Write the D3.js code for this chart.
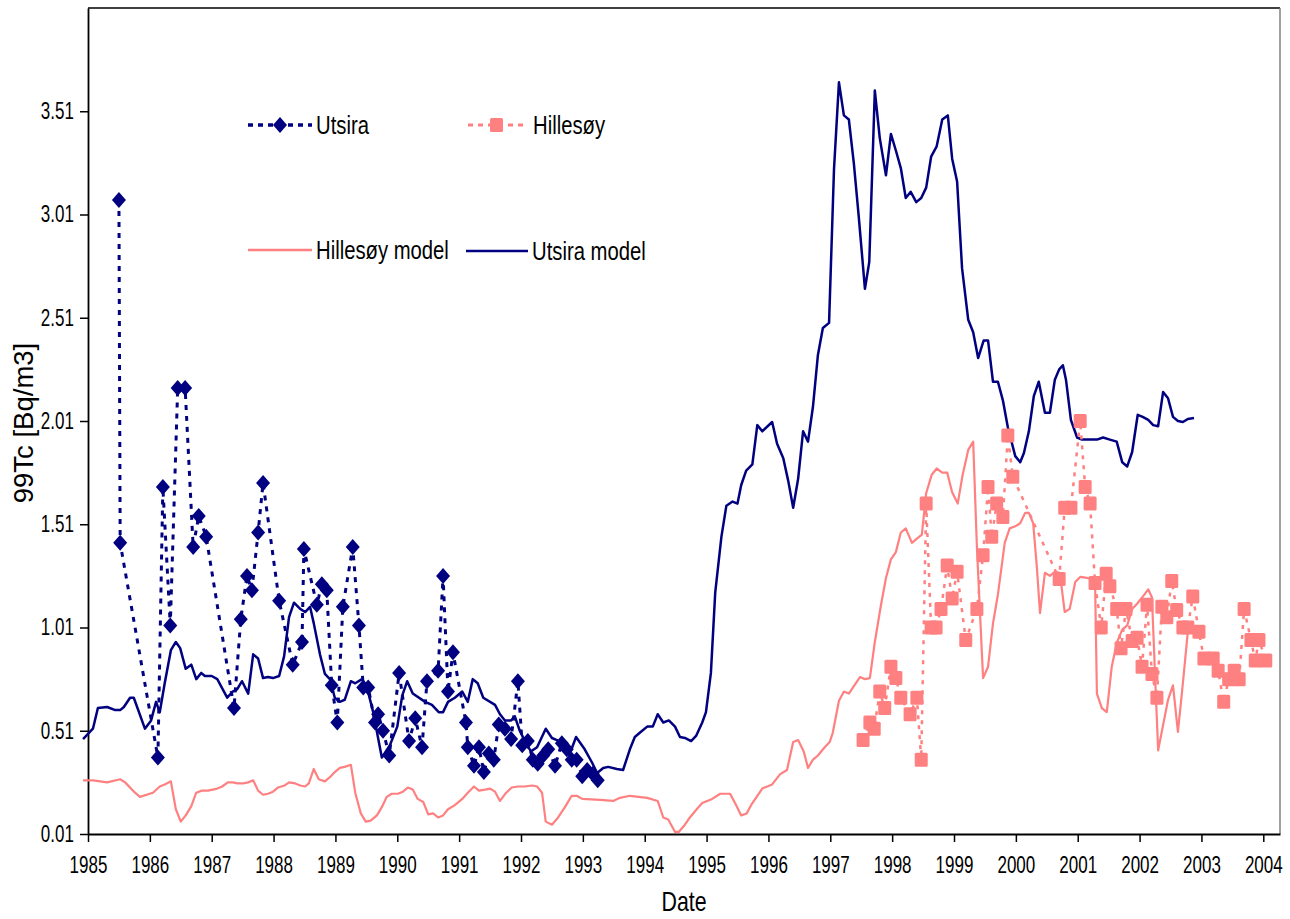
<!DOCTYPE html>
<html>
<head>
<meta charset="utf-8">
<script src="https://cdn.jsdelivr.net/npm/d3@7"></script>
<style>
body { margin: 0; background: #fff; }
svg { display: block; }
text { font-family: 'Liberation Sans', Arial, sans-serif; fill: #000; }
</style>
</head>
<body>
<div id="chart"></div>
<script>
// ---- data (decimal year, 99Tc Bq/m3) ----
var utsiraObs = [
  [1985.50,3.08],[1985.52,1.42],[1986.13,0.38],[1986.21,1.69],[1986.33,1.02],[1986.45,2.17],[1986.57,2.17],
  [1986.70,1.40],[1986.79,1.55],[1986.91,1.45],[1987.36,0.62],[1987.47,1.05],[1987.57,1.26],[1987.65,1.19],
  [1987.75,1.47],[1987.83,1.71],[1988.09,1.14],[1988.31,0.83],[1988.46,0.94],[1988.49,1.39],[1988.70,1.12],
  [1988.78,1.22],[1988.86,1.19],[1988.94,0.73],[1989.03,0.55],[1989.12,1.11],[1989.28,1.40],[1989.38,1.02],
  [1989.45,0.72],[1989.53,0.72],[1989.64,0.55],[1989.69,0.59],[1989.77,0.51],[1989.87,0.39],[1990.03,0.79],
  [1990.19,0.46],[1990.29,0.57],[1990.40,0.43],[1990.48,0.75],[1990.66,0.80],[1990.74,1.26],[1990.82,0.70],
  [1990.90,0.89],[1991.11,0.55],[1991.14,0.43],[1991.24,0.34],[1991.32,0.43],[1991.40,0.31],[1991.48,0.40],
  [1991.56,0.37],[1991.64,0.54],[1991.74,0.52],[1991.84,0.47],[1991.95,0.75],[1992.02,0.44],[1992.11,0.46],
  [1992.19,0.37],[1992.27,0.35],[1992.36,0.39],[1992.44,0.42],[1992.55,0.34],[1992.66,0.45],[1992.74,0.42],
  [1992.82,0.37],[1992.90,0.37],[1992.99,0.29],[1993.07,0.32],[1993.16,0.30],[1993.24,0.27]
];

var hillesoyObs = [
  [1997.53,0.465],[1997.64,0.55],[1997.71,0.52],[1997.80,0.70],[1997.88,0.62],[1997.98,0.82],[1998.06,0.765],
  [1998.14,0.67],[1998.29,0.59],[1998.40,0.67],[1998.47,0.37],[1998.55,1.61],[1998.63,1.01],[1998.71,1.01],
  [1998.79,1.10],[1998.89,1.31],[1998.97,1.15],[1999.05,1.28],[1999.19,0.95],[1999.37,1.10],[1999.47,1.36],
  [1999.55,1.69],[1999.61,1.45],[1999.69,1.61],[1999.79,1.545],[1999.87,1.94],[1999.95,1.74],[2000.70,1.245],
  [2000.79,1.59],[2000.89,1.59],[2001.04,2.01],[2001.12,1.69],[2001.20,1.61],[2001.28,1.225],[2001.38,1.01],
  [2001.46,1.27],[2001.52,1.21],[2001.63,1.10],[2001.70,0.91],[2001.78,1.10],[2001.88,0.945],[2001.96,0.96],
  [2002.04,0.82],[2002.12,1.12],[2002.20,0.785],[2002.28,0.67],[2002.36,1.11],[2002.44,1.06],[2002.52,1.235],
  [2002.60,1.095],[2002.70,1.01],[2002.78,1.01],[2002.86,1.16],[2002.96,0.99],[2003.04,0.86],[2003.19,0.86],
  [2003.27,0.80],[2003.36,0.65],[2003.44,0.76],[2003.53,0.80],[2003.61,0.76],[2003.69,1.10],[2003.80,0.95],
  [2003.87,0.85],[2003.93,0.95],[2004.04,0.85]
];

var hillesoyModel = [
  [1984.92,0.27],[1985.08,0.27],[1985.31,0.26],[1985.52,0.275],[1985.60,0.26],[1985.76,0.21],[1985.84,0.19],
  [1986.05,0.21],[1986.16,0.24],[1986.24,0.25],[1986.34,0.265],[1986.42,0.13],[1986.50,0.07],[1986.58,0.10],
  [1986.67,0.145],[1986.75,0.21],[1986.84,0.22],[1986.94,0.22],[1987.09,0.23],[1987.17,0.24],[1987.26,0.26],
  [1987.34,0.26],[1987.42,0.255],[1987.51,0.255],[1987.59,0.26],[1987.67,0.27],[1987.75,0.22],[1987.83,0.20],
  [1987.91,0.205],[1987.99,0.215],[1988.07,0.235],[1988.18,0.245],[1988.25,0.26],[1988.35,0.255],[1988.43,0.245],
  [1988.51,0.24],[1988.57,0.255],[1988.65,0.325],[1988.73,0.275],[1988.83,0.265],[1988.91,0.285],[1988.99,0.31],
  [1989.07,0.33],[1989.15,0.335],[1989.25,0.345],[1989.32,0.21],[1989.41,0.11],[1989.49,0.07],[1989.57,0.075],
  [1989.67,0.10],[1989.75,0.14],[1989.83,0.19],[1989.91,0.205],[1990.01,0.205],[1990.09,0.215],[1990.17,0.235],
  [1990.25,0.225],[1990.33,0.18],[1990.42,0.165],[1990.50,0.105],[1990.58,0.11],[1990.66,0.09],[1990.74,0.10],
  [1990.82,0.13],[1990.93,0.15],[1991.05,0.18],[1991.14,0.21],[1991.24,0.24],[1991.32,0.22],[1991.42,0.225],
  [1991.50,0.23],[1991.58,0.215],[1991.66,0.17],[1991.76,0.21],[1991.85,0.235],[1991.95,0.24],[1992.06,0.24],
  [1992.18,0.245],[1992.26,0.24],[1992.34,0.21],[1992.40,0.07],[1992.50,0.055],[1992.60,0.09],[1992.71,0.14],
  [1992.82,0.195],[1992.90,0.195],[1992.99,0.18],[1993.28,0.175],[1993.49,0.17],[1993.60,0.185],[1993.76,0.195],
  [1994.04,0.185],[1994.21,0.17],[1994.30,0.09],[1994.38,0.08],[1994.49,0.02],[1994.55,0.02],[1994.65,0.055],
  [1994.73,0.09],[1994.84,0.13],[1994.93,0.16],[1995.09,0.18],[1995.22,0.205],[1995.38,0.205],[1995.46,0.16],
  [1995.56,0.10],[1995.65,0.11],[1995.73,0.155],[1995.90,0.23],[1996.06,0.25],[1996.19,0.30],[1996.30,0.32],
  [1996.40,0.455],[1996.48,0.465],[1996.57,0.41],[1996.64,0.33],[1996.72,0.37],[1996.80,0.39],[1996.91,0.43],
  [1996.99,0.455],[1997.04,0.50],[1997.14,0.655],[1997.22,0.70],[1997.30,0.69],[1997.40,0.735],[1997.48,0.77],
  [1997.56,0.76],[1997.64,0.765],[1997.72,0.94],[1997.82,1.12],[1997.90,1.25],[1997.98,1.34],[1998.06,1.375],
  [1998.14,1.47],[1998.22,1.49],[1998.32,1.42],[1998.40,1.44],[1998.48,1.46],[1998.55,1.66],[1998.64,1.75],
  [1998.72,1.78],[1998.81,1.76],[1998.89,1.76],[1998.97,1.665],[1999.06,1.61],[1999.14,1.75],[1999.23,1.87],
  [1999.31,1.91],[1999.37,1.40],[1999.47,0.765],[1999.55,0.82],[1999.63,1.03],[1999.71,1.17],[1999.82,1.42],
  [1999.90,1.49],[1999.99,1.50],[2000.07,1.515],[2000.15,1.565],[2000.21,1.565],[2000.28,1.515],[2000.34,1.30],
  [2000.39,1.08],[2000.47,1.275],[2000.55,1.26],[2000.63,1.28],[2000.71,1.275],[2000.79,1.085],[2000.87,1.10],
  [2000.96,1.23],[2001.04,1.255],[2001.15,1.25],[2001.28,1.24],[2001.31,0.69],[2001.39,0.62],[2001.47,0.60],
  [2001.55,0.82],[2001.63,0.935],[2001.72,1.00],[2001.80,1.02],[2001.88,1.10],[2001.96,1.125],[2002.04,1.155],
  [2002.14,1.195],[2002.20,1.155],[2002.25,0.78],[2002.30,0.415],[2002.46,0.66],[2002.54,0.73],[2002.62,0.505],
  [2002.70,0.74],[2002.78,0.99]
];

var utsiraModel = [
  [1984.92,0.47],[1985.08,0.52],[1985.16,0.62],[1985.31,0.625],[1985.44,0.61],[1985.52,0.61],[1985.58,0.625],
  [1985.68,0.67],[1985.74,0.67],[1985.92,0.52],[1986.02,0.56],[1986.10,0.65],[1986.16,0.60],[1986.24,0.74],
  [1986.34,0.90],[1986.42,0.94],[1986.49,0.91],[1986.58,0.81],[1986.67,0.83],[1986.75,0.76],[1986.83,0.79],
  [1986.89,0.775],[1987.00,0.775],[1987.09,0.76],[1987.25,0.67],[1987.34,0.70],[1987.41,0.71],[1987.49,0.75],
  [1987.59,0.69],[1987.67,0.88],[1987.75,0.86],[1987.83,0.765],[1987.91,0.77],[1987.99,0.765],[1988.09,0.775],
  [1988.17,0.87],[1988.25,1.06],[1988.33,1.13],[1988.43,1.10],[1988.51,1.085],[1988.59,1.11],[1988.65,1.03],
  [1988.75,0.88],[1988.83,0.785],[1988.91,0.76],[1988.99,0.67],[1989.07,0.65],[1989.15,0.66],[1989.25,0.75],
  [1989.32,0.74],[1989.43,0.76],[1989.51,0.72],[1989.61,0.60],[1989.75,0.38],[1989.88,0.44],[1990.00,0.53],
  [1990.08,0.68],[1990.16,0.75],[1990.25,0.69],[1990.45,0.65],[1990.56,0.635],[1990.67,0.60],[1990.74,0.60],
  [1990.82,0.65],[1990.93,0.67],[1991.05,0.70],[1991.14,0.65],[1991.22,0.76],[1991.30,0.74],[1991.39,0.67],
  [1991.58,0.635],[1991.66,0.59],[1991.74,0.56],[1991.84,0.56],[1991.90,0.58],[1991.98,0.51],[1992.08,0.45],
  [1992.16,0.41],[1992.26,0.43],[1992.40,0.52],[1992.50,0.475],[1992.58,0.465],[1992.68,0.44],[1992.79,0.40],
  [1992.89,0.48],[1993.03,0.42],[1993.15,0.355],[1993.23,0.305],[1993.33,0.33],[1993.41,0.335],[1993.55,0.325],
  [1993.65,0.32],[1993.76,0.42],[1993.84,0.48],[1993.92,0.50],[1994.04,0.53],[1994.13,0.53],[1994.21,0.59],
  [1994.30,0.55],[1994.39,0.56],[1994.49,0.53],[1994.57,0.48],[1994.65,0.475],[1994.75,0.46],[1994.83,0.485],
  [1994.93,0.55],[1994.99,0.60],[1995.07,0.79],[1995.14,1.18],[1995.24,1.45],[1995.32,1.60],[1995.42,1.62],
  [1995.50,1.61],[1995.56,1.70],[1995.64,1.77],[1995.74,1.80],[1995.82,1.99],[1995.90,1.96],[1996.06,2.005],
  [1996.14,1.90],[1996.24,1.83],[1996.32,1.72],[1996.40,1.59],[1996.48,1.73],[1996.56,1.96],[1996.64,1.91],
  [1996.72,2.08],[1996.80,2.33],[1996.88,2.46],[1996.98,2.485],[1997.06,3.23],[1997.14,3.65],[1997.22,3.49],
  [1997.30,3.47],[1997.38,3.26],[1997.46,3.00],[1997.56,2.65],[1997.63,2.78],[1997.72,3.61],[1997.80,3.38],
  [1997.90,3.20],[1997.98,3.40],[1998.06,3.32],[1998.14,3.235],[1998.22,3.09],[1998.30,3.12],[1998.39,3.07],
  [1998.47,3.09],[1998.55,3.14],[1998.63,3.29],[1998.72,3.34],[1998.81,3.47],[1998.90,3.49],[1998.97,3.28],
  [1999.05,3.17],[1999.13,2.75],[1999.23,2.50],[1999.31,2.44],[1999.39,2.315],[1999.48,2.40],[1999.55,2.40],
  [1999.63,2.20],[1999.71,2.20],[1999.79,2.11],[1999.87,1.98],[1999.99,1.84],[2000.07,1.81],[2000.13,1.855],
  [2000.21,1.96],[2000.29,2.13],[2000.37,2.20],[2000.47,2.05],[2000.55,2.05],[2000.63,2.21],[2000.70,2.26],
  [2000.76,2.28],[2000.81,2.21],[2000.89,2.015],[2000.99,1.93],[2001.07,1.92],[2001.31,1.92],[2001.41,1.93],
  [2001.52,1.92],[2001.63,1.91],[2001.72,1.81],[2001.80,1.79],[2001.88,1.86],[2001.97,2.04],[2002.05,2.03],
  [2002.14,2.015],[2002.22,1.99],[2002.30,1.985],[2002.38,2.15],[2002.46,2.12],[2002.54,2.03],[2002.62,2.01],
  [2002.70,2.005],[2002.78,2.02],[2002.88,2.025]
];

var yearTicks = d3.range(1985, 2005);
var valueTicks = [0.01, 0.51, 1.01, 1.51, 2.01, 2.51, 3.01, 3.51];

// colours
var navy = '#000080';
var salmon = '#ff8080';

// text in the original is condensed - squeeze horizontally
var squeeze = 0.74;

// svg area
var svgWidth = 1290;
var svgHeight = 919;
var plot = { left: 88, right: 1280, top: 8, bottom: 834 };

var svg = d3.select('#chart')
  .append('svg')
  .attr('width', svgWidth)
  .attr('height', svgHeight);

// scales
var xScale = d3.scaleLinear()
  .domain([1985, 2004.27])
  .range([plot.left, plot.right]);

var yScale = d3.scaleLinear()
  .domain([0.01, 4.01])
  .range([plot.bottom, plot.top]);

// frame: top and right edges of plot area
svg.append('line')
  .attr('x1', plot.left).attr('x2', plot.right)
  .attr('y1', plot.top).attr('y2', plot.top)
  .attr('stroke', '#000').attr('stroke-width', 1.5);
svg.append('line')
  .attr('x1', plot.right).attr('x2', plot.right)
  .attr('y1', plot.top).attr('y2', plot.bottom)
  .attr('stroke', '#808080').attr('stroke-width', 1.5);

// axes
var bottomAxis = d3.axisBottom(xScale)
  .tickValues(yearTicks)
  .tickFormat(d3.format('d'))
  .tickSize(8)
  .tickSizeOuter(0)
  .tickPadding(15);

var leftAxis = d3.axisLeft(yScale)
  .tickValues(valueTicks)
  .tickFormat(d3.format('.2f'))
  .tickSize(8)
  .tickSizeOuter(0)
  .tickPadding(11);

var xAxisG = svg.append('g')
  .attr('transform', `translate(0, ${plot.bottom})`)
  .call(bottomAxis);
xAxisG.select('.domain').attr('stroke-width', 2.2);
xAxisG.selectAll('.tick line').attr('stroke-width', 1.5);
xAxisG.selectAll('.tick text')
  .attr('font-size', 23)
  .attr('font-family', null)
  .attr('transform', `scale(${squeeze},1)`);

var yAxisG = svg.append('g')
  .attr('transform', `translate(${plot.left}, 0)`)
  .call(leftAxis);
yAxisG.select('.domain').attr('stroke-width', 1.8);
yAxisG.selectAll('.tick line').attr('stroke-width', 1.5);
yAxisG.selectAll('.tick text')
  .attr('font-size', 23)
  .attr('font-family', null)
  .attr('transform', `scale(${squeeze},1)`);

// axis titles
svg.append('text')
  .attr('transform', `translate(684, 911) scale(0.79,1)`)
  .attr('text-anchor', 'middle')
  .attr('font-size', 27)
  .text('Date');

svg.append('text')
  .attr('transform', 'translate(33, 423) rotate(-90)')
  .attr('text-anchor', 'middle')
  .attr('font-size', 27.5)
  .text('99Tc [Bq/m3]');

// line generator
var line = d3.line()
  .x(d => xScale(d[0]))
  .y(d => yScale(d[1]));

// model lines
svg.append('path')
  .datum(hillesoyModel)
  .attr('d', line)
  .attr('fill', 'none')
  .attr('stroke', salmon)
  .attr('stroke-width', 2.2)
  .attr('stroke-linejoin', 'round');

svg.append('path')
  .datum(utsiraModel)
  .attr('d', line)
  .attr('fill', 'none')
  .attr('stroke', navy)
  .attr('stroke-width', 2.5)
  .attr('stroke-linejoin', 'round');

// observation lines (dotted)
svg.append('path')
  .datum(utsiraObs)
  .attr('d', line)
  .attr('fill', 'none')
  .attr('stroke', navy)
  .attr('stroke-width', 3)
  .attr('stroke-dasharray', '5,6');

svg.append('path')
  .datum(hillesoyObs)
  .attr('d', line)
  .attr('fill', 'none')
  .attr('stroke', salmon)
  .attr('stroke-width', 2.5)
  .attr('stroke-dasharray', '4,6');

// markers
var diamond = 'M0,-8L7,0L0,8L-7,0Z';

svg.append('g')
  .selectAll('path')
  .data(utsiraObs)
  .enter()
  .append('path')
  .attr('d', diamond)
  .attr('transform', d => `translate(${xScale(d[0])}, ${yScale(d[1])})`)
  .attr('fill', navy);

svg.append('g')
  .selectAll('rect')
  .data(hillesoyObs)
  .enter()
  .append('rect')
  .attr('x', d => xScale(d[0]) - 6.5)
  .attr('y', d => yScale(d[1]) - 7)
  .attr('width', 13)
  .attr('height', 14)
  .attr('rx', 1.5)
  .attr('fill', salmon);

// legend
var legend = svg.append('g');

function legendLine(x1, x2, y, color, width, dash) {
  legend.append('line')
    .attr('x1', x1).attr('x2', x2)
    .attr('y1', y).attr('y2', y)
    .attr('stroke', color)
    .attr('stroke-width', width)
    .attr('stroke-dasharray', dash);
}

function legendText(x, y, label) {
  legend.append('text')
    .attr('transform', `translate(${x}, ${y + 9}) scale(0.78,1)`)
    .attr('font-size', 26)
    .text(label);
}

legendLine(248, 312, 125, navy, 3.5, '5,5');
legend.append('path')
  .attr('d', diamond)
  .attr('transform', 'translate(280, 125)')
  .attr('fill', navy);
legendText(316, 125, 'Utsira');

legendLine(468, 528, 125, salmon, 3, '5,5');
legend.append('rect')
  .attr('x', 490).attr('y', 118)
  .attr('width', 13).attr('height', 14)
  .attr('rx', 1.5)
  .attr('fill', salmon);
legendText(533, 125, 'Hillesøy');

legendLine(248, 312, 250, salmon, 2.5, null);
legendText(316, 250, 'Hillesøy model');

legendLine(466, 528, 251, navy, 2.5, null);
legendText(532, 251, 'Utsira model');
</script>
</body>
</html>
